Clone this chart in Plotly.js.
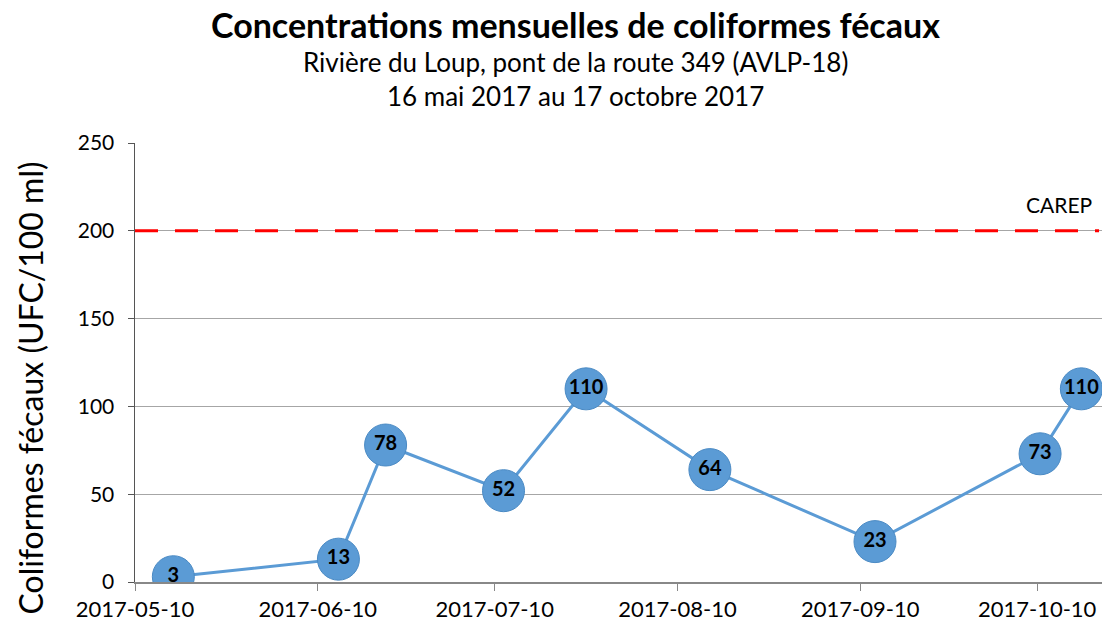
<!DOCTYPE html>
<html>
<head>
<meta charset="utf-8">
<script src="https://cdn.plot.ly/plotly-3.0.1.min.js"></script>
<style>html,body{margin:0;padding:0;background:#fff;}#chart{width:1107px;height:626px;}</style>
</head>
<body>
<div id="chart"></div>
<script>
// Data
const dates = ["2017-05-16","2017-06-13","2017-06-21","2017-07-11","2017-07-25","2017-08-15","2017-09-12","2017-10-10","2017-10-17"];
const values = [3, 13, 78, 52, 110, 64, 23, 73, 110];
const carepValue = 200;
const carepLabel = "CAREP";
const tickDates = ["2017-05-09 12:00","2017-06-09 12:00","2017-07-09 12:00","2017-08-09 12:00","2017-09-09 12:00","2017-10-09 12:00"];
const tickLabels = ["2017-05-10","2017-06-10","2017-07-10","2017-08-10","2017-09-10","2017-10-10"];
const xRange = ["2017-05-09 12:00","2017-10-20 12:00"];
const carepEnd = "2017-10-20 00:00";
const titleText = "Concentrations mensuelles de coliformes fécaux";
const subtitle1 = "Rivière du Loup, pont de la route 349 (AVLP-18)";
const subtitle2 = "16 mai 2017 au 17 octobre 2017";
const yTitle = "Coliformes fécaux (UFC/100 ml)";

const font = "Lato, 'Open Sans', sans-serif";

const traces = [
  {
    x: [xRange[0], carepEnd],
    y: [carepValue, carepValue],
    mode: "lines",
    line: {color: "#FF0000", width: 3, dash: "23px,17px"},
    hoverinfo: "skip",
    showlegend: false
  },
  {
    x: dates,
    y: values,
    mode: "lines+markers+text",
    line: {color: "#5B9BD5", width: 3},
    marker: {size: 42, color: "#5B9BD5", line: {color: "#4A8AC4", width: 1}},
    text: values.map(String),
    textposition: "middle center",
    textfont: {family: font, size: 20, color: "#000", weight: "bold"},
    showlegend: false
  }
];

const layout = {
  width: 1107, height: 626,
  paper_bgcolor: "#fff", plot_bgcolor: "#fff",
  margin: {l: 135, r: 5, t: 143, b: 44},
  font: {family: font, color: "#000"},
  showlegend: false,
  xaxis: {
    type: "date",
    range: xRange,
    tickvals: tickDates,
    ticktext: tickLabels,
    ticks: "outside", ticklen: 7, tickcolor: "#888",
    showgrid: false, zeroline: false,
    showline: true, linecolor: "#888", linewidth: 1.5,
    tickfont: {family: font, size: 22, color: "#000"}
  },
  yaxis: {
    range: [0, 250],
    tickvals: [0, 50, 100, 150, 200, 250],
    ticks: "outside", ticklen: 6, tickcolor: "#555",
    ticklabelstandoff: 9,
    showgrid: true, gridcolor: "#A6A6A6", gridwidth: 1,
    zeroline: false,
    showline: true, linecolor: "#555", linewidth: 1.5,
    tickfont: {family: font, size: 21, color: "#000"}
  },
  annotations: [
    {text: "<b>" + titleText + "</b>", xref: "paper", yref: "paper", x: 0.456, y: 1, xanchor: "center", yanchor: "middle",
     yshift: 119, showarrow: false, font: {family: font, size: 34, color: "#000"}},
    {text: subtitle1, xref: "paper", yref: "paper", x: 0.456, y: 1, xanchor: "center", yanchor: "middle",
     yshift: 81, showarrow: false, font: {family: font, size: 26, color: "#000"}},
    {text: subtitle2, xref: "paper", yref: "paper", x: 0.456, y: 1, xanchor: "center", yanchor: "middle",
     yshift: 47, showarrow: false, font: {family: font, size: 26, color: "#000"}},
    {text: yTitle, xref: "paper", yref: "paper", x: 0, y: 0.5, xanchor: "center", yanchor: "middle",
     xshift: -105, yshift: -26, textangle: -90, showarrow: false, font: {family: font, size: 32, color: "#000"}},
    {text: carepLabel, xref: "paper", yref: "y", x: 1, y: carepValue, xanchor: "right", yanchor: "bottom",
     xshift: -8, yshift: 12, showarrow: false, font: {family: font, size: 21, color: "#000"}}
  ]
};

Plotly.newPlot("chart", traces, layout, {displayModeBar: false, staticPlot: true});
</script>
</body>
</html>
